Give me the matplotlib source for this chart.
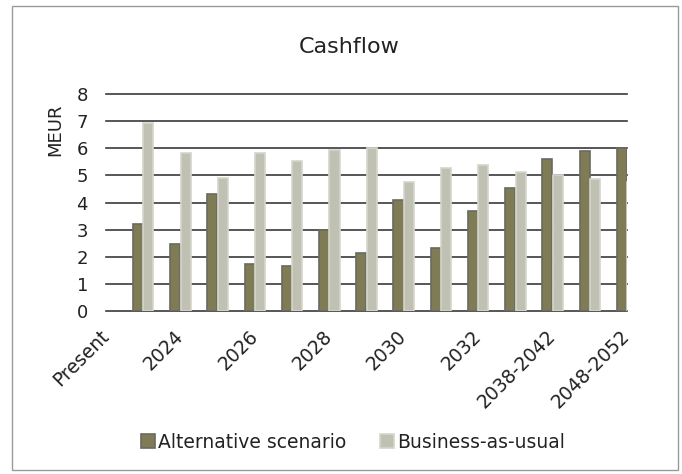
import numpy as np
import matplotlib
matplotlib.use("Agg")
import matplotlib.pyplot as plt
import matplotlib.transforms as mtransforms
from matplotlib.patches import Rectangle

categories = ["Present", "2023", "2024", "2025", "2026", "2027", "2028", "2029",
              "2030", "2031", "2032", "2033-2037", "2038-2042", "2043-2047", "2048-2052"]
alternative = [np.nan, 3.22, 2.46, 4.30, 1.75, 1.65, 2.97, 2.13, 4.10, 2.33, 3.69, 4.54, 5.59, 5.91, 6.00]
business = [np.nan, 6.94, 5.82, 4.92, 5.82, 5.54, 5.93, 6.00, 4.76, 5.28, 5.39, 5.13, 5.02, 4.87, 4.74]
yticks = [0, 1, 2, 3, 4, 5, 6, 7, 8]

plt.rcParams['font.family'] = ['DejaVu Sans']
TXT = "#222222"

fig = plt.figure(figsize=(6.82, 4.74), dpi=100)
ax = fig.add_axes([106/682, 1-311/474, (627-106)/682, (311-94)/474])

x = np.arange(len(categories))
w = 0.27
ax.bar(x - 0.14, alternative, width=w, color="#7f7c55", edgecolor="#6a6a62",
       linewidth=1.2, label="Alternative scenario", zorder=3)
ax.bar(x + 0.14, business, width=w, color="#c0c1b2", edgecolor="#d4d5cc",
       linewidth=1.2, label="Business-as-usual", zorder=3)

ax.set_xlim(0, len(categories) - 1)
ax.set_ylim(0, 8)
ax.set_yticks(yticks)
ax.set_yticklabels([str(v) for v in yticks], fontsize=13, color=TXT)
ax.set_xticks(x[::2])
ax.set_xticklabels(categories[::2], rotation=45, ha="right", va="center",
                   rotation_mode="anchor", fontsize=13.5, color=TXT)
ax.tick_params(axis="y", length=0, pad=13)
ax.tick_params(axis="x", length=0, pad=16)
for s in ax.spines.values():
    s.set_visible(False)
ax.grid(axis="y", color="#3a3a3a", linewidth=1.2, zorder=0)
ax.set_axisbelow(True)
for gl in ax.get_ygridlines():
    gl.set_clip_on(False)

fig.text(55/682, 1-130/474, "MEUR", rotation=90, ha="center", va="center",
         fontsize=13, color=TXT)
fig.text(349/682, 1-47/474, "Cashflow", ha="center", va="center", fontsize=16, color=TXT)

leg = fig.legend(loc="center", bbox_to_anchor=(353/682, 1-442/474), ncol=2, frameon=False,
                 fontsize=13.5, handlelength=0.75, handleheight=0.75, handletextpad=0.15,
                 columnspacing=1.8)
for t in leg.get_texts():
    t.set_color(TXT)

fig.patches.append(Rectangle((12/682, 1-470/474), (678-12)/682, (470-6)/474,
                             transform=fig.transFigure, fill=False,
                             edgecolor="#9a9a9a", linewidth=1.0))

fig.savefig("out.png", dpi=100)
